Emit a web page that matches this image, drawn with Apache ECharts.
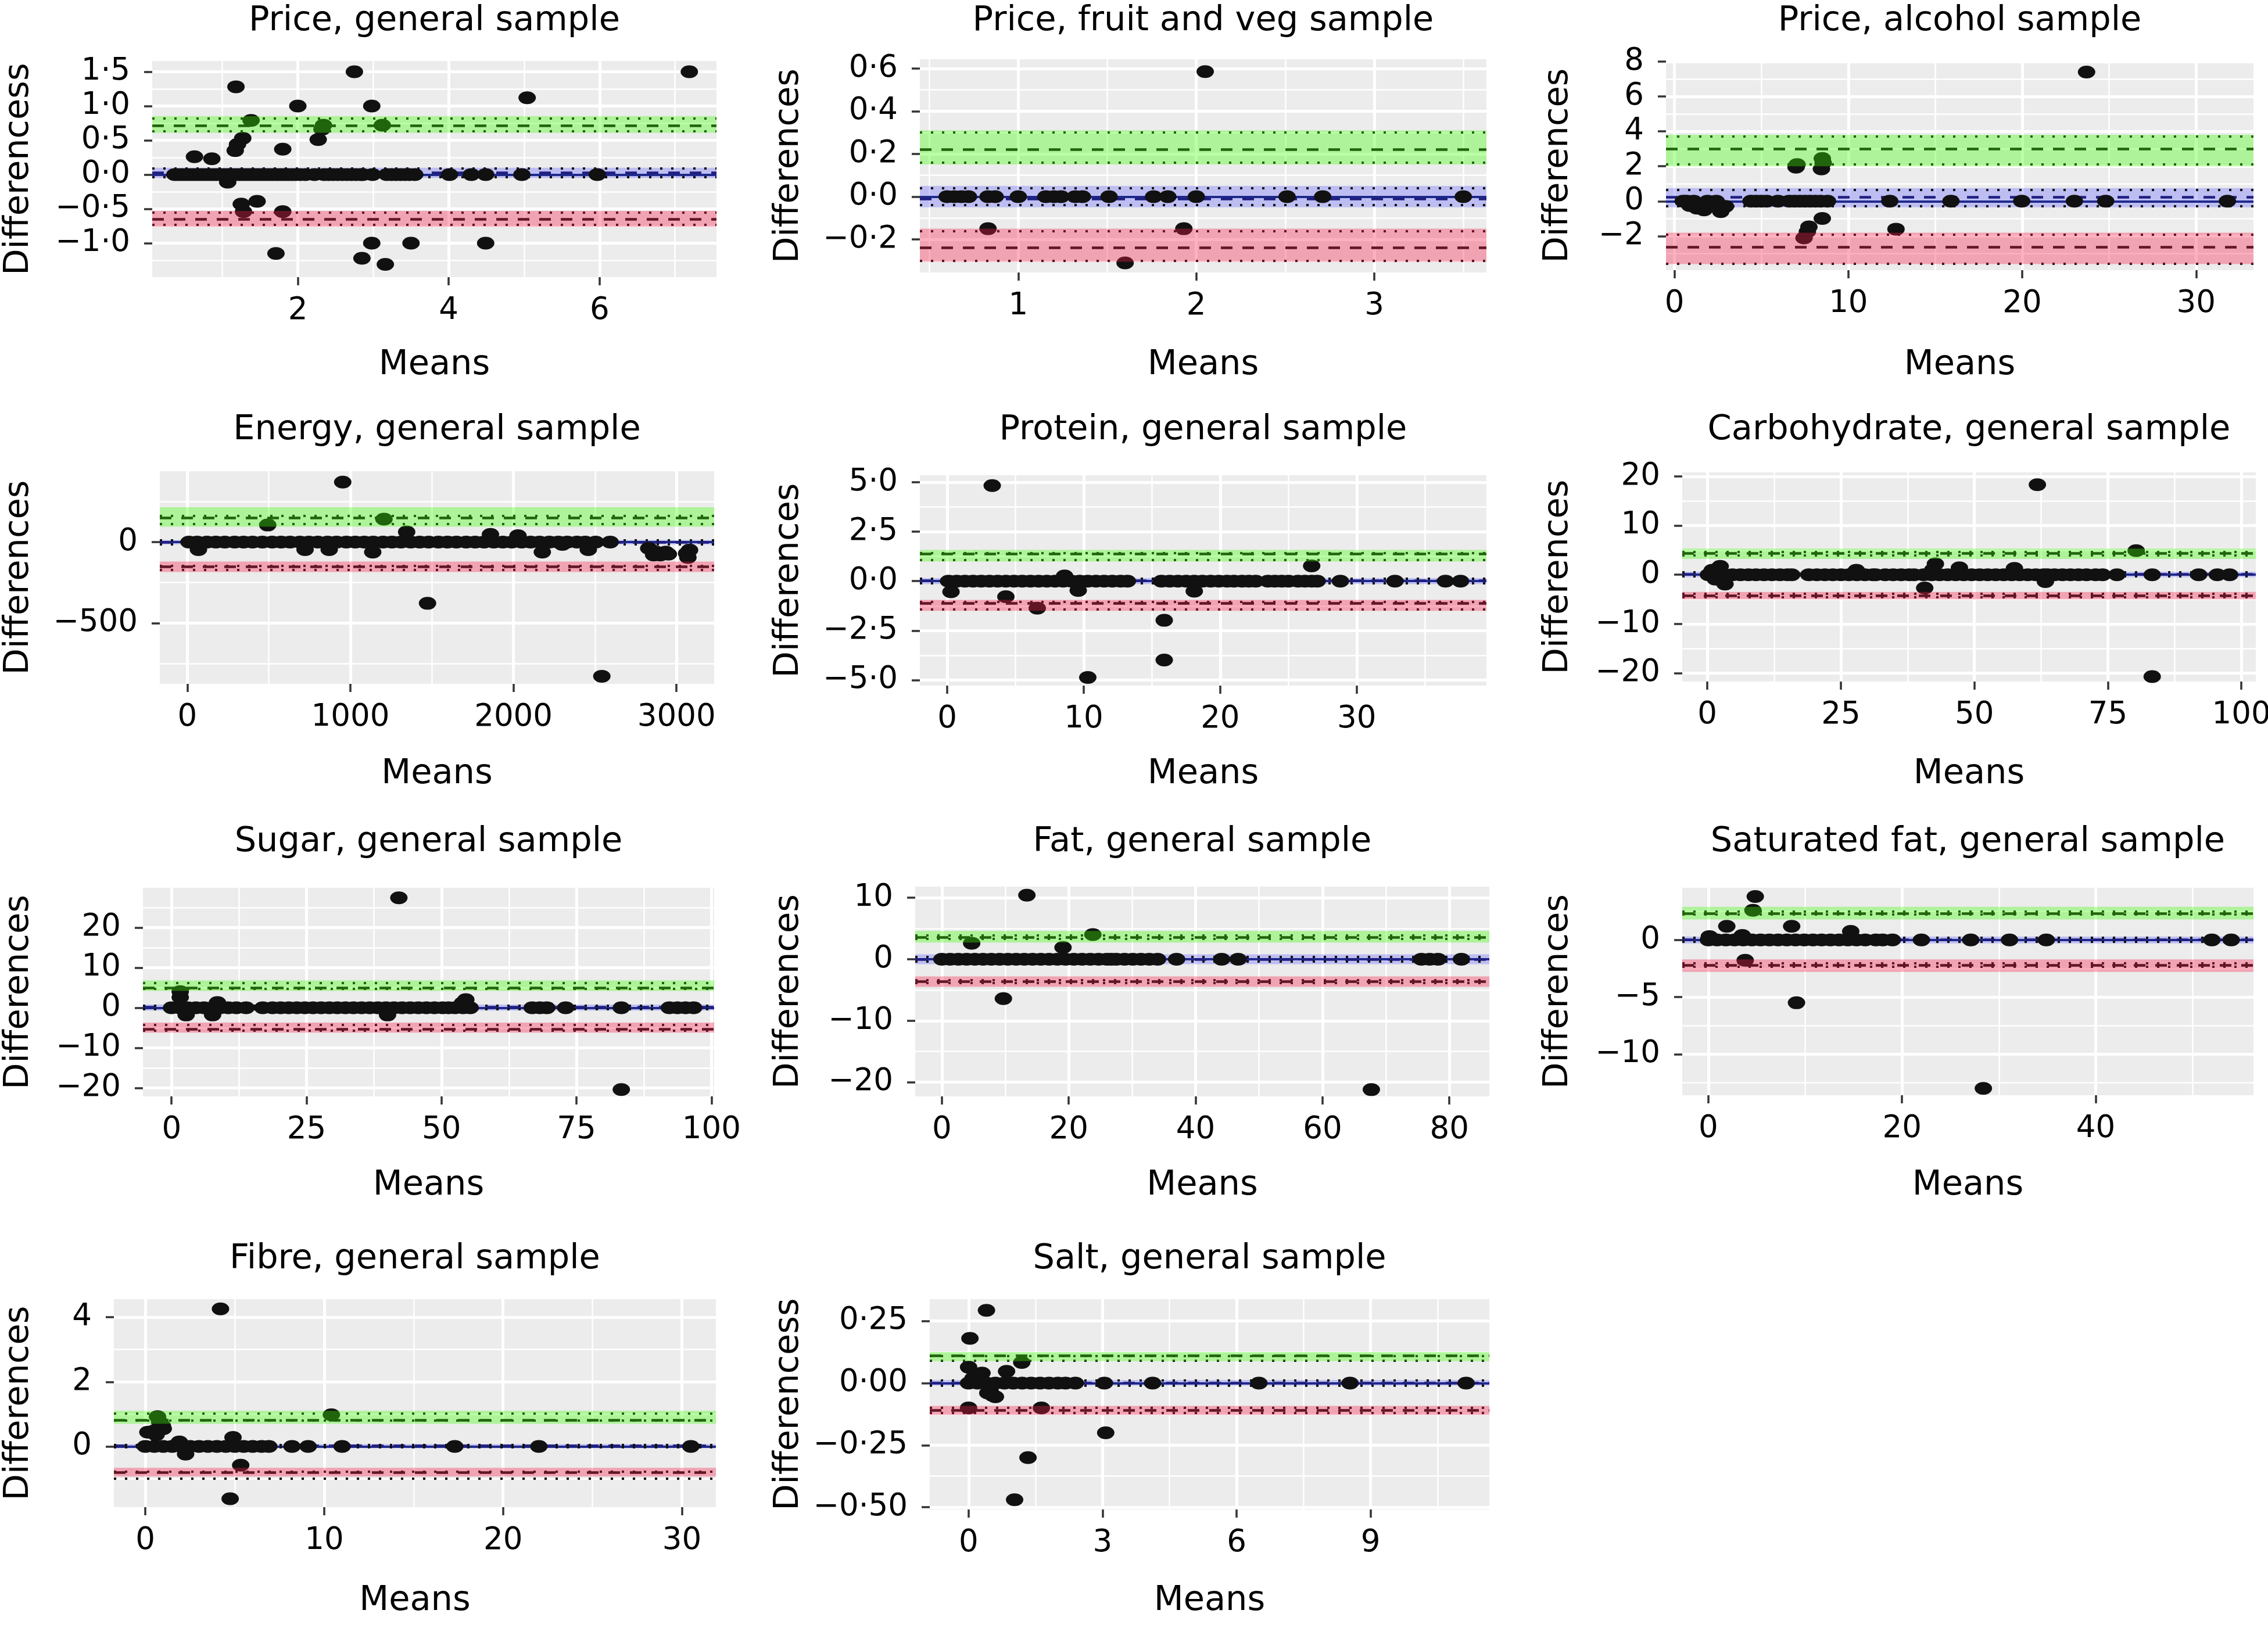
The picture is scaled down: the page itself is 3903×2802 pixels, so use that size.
<!DOCTYPE html>
<html><head><meta charset="utf-8">
<script src="https://cdn.jsdelivr.net/npm/echarts@6/dist/echarts.min.js"></script>
<style>html,body{margin:0;padding:0;background:#fff}#c{width:3903px;height:2802px}</style>
</head><body><div id="c"></div><script>
// ---------------- DATA ----------------
const titles = ["Price, general sample","Price, fruit and veg sample","Price, alcohol sample",
  "Energy, general sample","Protein, general sample","Carbohydrate, general sample",
  "Sugar, general sample","Fat, general sample","Saturated fat, general sample",
  "Fibre, general sample","Salt, general sample"];
const yNames = ["Differencess","Differences","Differences","Differences","Differences","Differences",
  "Differences","Differences","Differences","Differences","Differencess"];
const xName = "Means";

// Each panel: off-zero points (X,Y), points on the zero line (Zero: x values),
// Loa = [lower LoA, mean difference, upper LoA], Dots = CI (dotted) lines,
// Fill = [green lo, green hi, blue lo, blue hi, red lo, red hi]
const p1X = [7.19,2.75,1.18,5.04,2.00,2.98,1.38,3.12,2.34,2.32,2.27,1.27,1.20,1.17,1.80,0.63,0.86,1.07,1.25,1.28,1.46,1.80,2.98,3.50,4.49,1.71,2.85,3.16];
const p1Y = [1.50,1.50,1.28,1.12,1.00,1.00,0.79,0.72,0.72,0.66,0.51,0.53,0.44,0.35,0.37,0.26,0.23,-0.11,-0.43,-0.54,-0.39,-0.54,-1.00,-1.00,-1.00,-1.15,-1.22,-1.31];
const p1Zero = [0.37,0.42,0.47,0.52,0.57,0.62,0.67,0.72,0.77,0.82,0.87,0.92,0.97,1.02,1.07,1.12,1.17,1.22,1.27,1.32,1.37,1.42,1.47,1.52,1.57,1.62,1.67,1.72,1.77,1.82,1.87,1.92,1.97,2.03,2.10,2.22,2.35,2.41,2.47,2.53,2.59,2.65,2.71,2.77,2.83,2.86,2.99,3.18,3.24,3.30,3.36,3.42,3.48,3.55,4.01,4.30,4.49,4.97,5.97];
const p1Loa = [-0.65,0.03,0.71];
const p1Dots = [0.82,0.625,0.09,-0.04,-0.55,-0.73];
const p1Fill = [0.61,0.85,-0.05,0.10,-0.76,-0.53];
const p1XTicks = [2,4,6];
const p1YTicks = [-1,-0.5,0,0.5,1,1.5];

const p2X = [2.05,0.83,1.93,1.60];
const p2Y = [0.585,-0.15,-0.15,-0.31];
const p2Zero = [0.60,0.64,0.68,0.72,0.83,0.87,1.00,1.155,1.20,1.24,1.32,1.36,1.51,1.76,1.84,2.00,2.51,2.71,3.50];
const p2Loa = [-0.237,-0.006,0.224];
const p2Dots = [0.30,0.163,0.044,-0.041,-0.159,-0.296];
const p2Fill = [0.151,0.31,-0.05,0.05,-0.305,-0.15];
const p2XTicks = [1,2,3];
const p2YTicks = [-0.2,0,0.2,0.4,0.6];

const p3X = [23.7,6.99,7.05,8.50,8.55,8.45,8.50,7.73,7.64,7.45,12.74,0.88,1.29,1.70,2.10,2.66,2.93,1.00,1.50];
const p3Y = [7.40,1.95,2.10,2.45,2.20,1.85,-0.99,-1.47,-1.75,-2.10,-1.60,-0.25,-0.40,-0.50,-0.10,-0.60,-0.30,-0.10,-0.20];
const p3Zero = [0.5,0.7,1.1,1.9,2.4,4.4,4.7,5.0,5.3,5.95,6.6,6.9,7.2,7.5,7.8,8.1,8.4,8.8,12.38,15.9,19.97,23.0,24.8,31.8];
const p3Loa = [-2.62,0.22,3.0];
const p3Dots = [3.72,2.11,0.65,-0.27,-1.9,-3.56];
const p3Fill = [2.0,3.8,-0.35,0.75,-3.6,-1.8];
const p3XTicks = [0,10,20,30];
const p3YTicks = [-2,0,2,4,6,8];

const p4X = [953,493,1206,1473,2542,1345,1859,2028,3062,2875,2934,2830,68,722,870,1137,2177,2459,3080,2300,2860,2900,2950,3070];
const p4Y = [370,105,141,-378,-828,62,47,39,-70,-62,-62,-39,-47,-47,-47,-62,-62,-47,-50,-15,-80,-80,-75,-95];
const p4Zero = [10,60,120,175,230,290,345,400,460,520,575,630,690,745,800,860,915,975,1030,1085,1140,1200,1255,1310,1370,1425,1480,1540,1595,1650,1710,1765,1820,1880,1935,1990,2050,2105,2160,2220,2275,2330,2390,2440,2504,2593];
const p4Loa = [-152,-2,148];
const p4Dots = [162,112,10,-14,-145,-170];
const p4Fill = [95,215,-15,12,-185,-120];
const p4XTicks = [0,1000,2000,3000];
const p4YTicks = [-500,0];

const p5X = [3.3,4.3,6.6,8.6,9.6,10.3,15.9,15.9,18.1,26.7,0.28];
const p5Y = [4.83,-0.79,-1.37,0.26,-0.47,-4.87,-1.98,-3.99,-0.51,0.77,-0.54];
const p5Zero = [0.1,0.7,1.3,1.9,2.5,3.1,3.7,4.3,4.9,5.5,6.1,6.7,7.3,7.9,8.5,9.1,9.7,10.3,10.9,11.5,12.1,12.7,13.2,15.7,16.3,16.9,17.5,18.1,18.7,19.3,19.9,20.5,21.0,21.6,22.1,22.6,23.5,24.0,24.5,25.0,25.7,26.2,26.7,27.1,28.8,32.8,36.5,37.6];
const p5Loa = [-1.11,0.02,1.38];
const p5Dots = [1.43,1.06,0.12,-0.10,-1.05,-1.43];
const p5Fill = [1.0,1.58,-0.15,0.15,-1.5,-0.95];
const p5XTicks = [0,10,20,30];
const p5YTicks = [-5,-2.5,0,2.5,5];

const p6X = [61.8,80.3,83.3,42.7,40.7,0.9,2.4,3.3,27.9,47.2,57.5,63.3,42.2,1.5];
const p6Y = [18.3,4.9,-20.7,2.2,-2.7,0.9,1.7,-1.9,0.9,1.4,1.3,-1.4,1.0,-0.9];
const p6Zero = [0.2,1.7,3.2,4.7,6.2,7.7,9.1,10.6,12.1,13.6,15.0,15.8,19.0,20.5,22.0,23.5,25.0,26.5,28.0,29.5,31.0,31.5,33.3,34.8,36.3,37.8,38.7,40.5,42.0,43.5,45.0,46.5,48.0,49.5,51.0,52.5,54.0,55.5,57.0,58.5,60.0,61.5,63.0,63.7,65.0,66.5,68.0,69.5,71.0,72.7,74.0,76.7,83.3,92.0,95.5,97.8];
const p6Loa = [-4.2,0.1,4.4];
const p6Dots = [4.7,4.0,0.5,-0.3,-3.9,-4.6];
const p6Fill = [3.2,5.3,-0.5,0.6,-5.0,-3.5];
const p6XTicks = [0,25,50,75,100];
const p6YTicks = [-20,-10,0,10,20];

const p7X = [42.1,83.3,1.6,1.6,8.5,53.9,2.7,7.6,40.0,54.5];
const p7Y = [27.4,-20.4,2.6,4.0,1.3,1.2,-1.8,-1.8,-1.8,2.0];
const p7Zero = [0,1.5,3.0,4.5,6.0,7.5,9.0,10.5,12.0,13.8,16.9,18.7,20.2,21.7,23.2,24.7,26.2,27.7,29.2,30.7,32.2,33.7,35.2,36.7,38.2,39.7,41.2,42.7,44.2,45.7,47.2,48.7,50.2,51.3,52.5,54.0,55.3,66.8,68.2,69.5,73.0,83.3,92.2,93.7,95.2,96.7];
const p7Loa = [-5.4,0.1,4.9];
const p7Dots = [6.2,4.75,0.5,-0.4,-4.2,-5.65];
const p7Fill = [4.2,6.8,-0.7,0.8,-6.2,-3.7];
const p7XTicks = [0,25,50,75,100];
const p7YTicks = [-20,-10,0,10,20];

const p8X = [13.4,67.7,9.7,4.7,23.8,19.1];
const p8Y = [10.4,-21.2,-6.4,2.6,4.0,1.9];
const p8Zero = [0,1.3,2.6,3.9,5.2,6.5,7.8,9.1,10.4,11.7,13.0,14.3,15.6,16.9,18.2,19.5,20.8,22.1,23.4,24.7,26.0,26.7,27.5,28.8,30.1,31.4,32.7,34.0,37.0,44.1,46.7,75.6,76.9,78.2,81.9];
const p8Loa = [-3.6,0,3.6];
const p8Dots = [3.9,3.35,0.4,-0.4,-3.35,-3.9];
const p8Fill = [2.7,4.6,-0.8,0.8,-4.5,-2.8];
const p8XTicks = [0,20,40,60,80];
const p8YTicks = [-20,-10,0,10];

const p9X = [4.84,4.6,1.9,8.6,14.7,3.8,9.1,28.4,0.1,3.5];
const p9Y = [3.81,2.6,1.2,1.2,0.75,-1.78,-5.5,-13.0,0.3,0.4];
const p9Zero = [0,0.9,1.8,2.7,3.6,4.5,5.4,6.3,7.2,8.1,9.0,9.9,10.8,11.7,12.6,13.5,14.4,15.3,16.2,17.3,18.0,19.0,22.0,27.1,31.1,34.9,52.0,54.0];
const p9Loa = [-2.2,0.05,2.33];
const p9Dots = [2.5,2.25,0.2,-0.15,-2.05,-2.35];
const p9Fill = [1.8,2.9,-0.3,0.3,-2.8,-1.7];
const p9XTicks = [0,20,40];
const p9YTicks = [-10,-5,0];

const p10X = [4.2,4.74,10.4,5.33,4.9,2.25,1.9,0.68,0.95,0.5,0.14,0.6,0.8,1.0];
const p10Y = [4.26,-1.62,0.98,-0.58,0.28,-0.24,0.14,0.92,0.64,0.48,0.44,0.36,0.75,0.55];
const p10Zero = [0,0.5,1.0,1.5,2.0,2.5,3.0,3.5,4.0,4.5,5.0,5.5,6.0,6.5,6.9,8.2,9.1,11.0,17.3,22.0,30.5];
const p10Loa = [-0.8,0.02,0.82];
const p10Dots = [1.02,0.8,0.05,-0.03,-0.78,-1.0];
const p10Fill = [0.7,1.1,-0.06,0.07,-0.93,-0.66];
const p10XTicks = [0,10,20,30];
const p10YTicks = [0,2,4];

const p11X = [0.4,0.03,1.19,0.0,0.85,0.3,0.0,1.63,3.07,1.33,1.03,0.54,0.43,0.6,0.48,0.1,0.2];
const p11Y = [0.293,0.18,0.083,0.064,0.047,0.04,-0.1,-0.1,-0.2,-0.3,-0.47,-0.05,-0.04,-0.055,-0.03,0.02,0.03];
const p11Zero = [0,0.2,0.4,0.6,0.8,1.0,1.2,1.4,1.6,1.8,2.0,2.17,2.39,3.04,4.12,6.5,8.54,11.14];
const p11Loa = [-0.114,-0.002,0.109];
const p11Dots = [0.113,0.094,0.008,-0.01,-0.099,-0.118];
const p11Fill = [0.088,0.125,-0.01,0.012,-0.128,-0.092];
const p11XTicks = [0,3,6,9];
const p11YTicks = [-0.5,-0.25,0,0.25];

// ---------------- LAYOUT ----------------
const panels = [
  {px:p1X,py:p1Y,zero:p1Zero,loa:p1Loa,dots:p1Dots,fill:p1Fill,xt:p1XTicks,yt:p1YTicks},
  {px:p2X,py:p2Y,zero:p2Zero,loa:p2Loa,dots:p2Dots,fill:p2Fill,xt:p2XTicks,yt:p2YTicks},
  {px:p3X,py:p3Y,zero:p3Zero,loa:p3Loa,dots:p3Dots,fill:p3Fill,xt:p3XTicks,yt:p3YTicks},
  {px:p4X,py:p4Y,zero:p4Zero,loa:p4Loa,dots:p4Dots,fill:p4Fill,xt:p4XTicks,yt:p4YTicks},
  {px:p5X,py:p5Y,zero:p5Zero,loa:p5Loa,dots:p5Dots,fill:p5Fill,xt:p5XTicks,yt:p5YTicks},
  {px:p6X,py:p6Y,zero:p6Zero,loa:p6Loa,dots:p6Dots,fill:p6Fill,xt:p6XTicks,yt:p6YTicks},
  {px:p7X,py:p7Y,zero:p7Zero,loa:p7Loa,dots:p7Dots,fill:p7Fill,xt:p7XTicks,yt:p7YTicks},
  {px:p8X,py:p8Y,zero:p8Zero,loa:p8Loa,dots:p8Dots,fill:p8Fill,xt:p8XTicks,yt:p8YTicks},
  {px:p9X,py:p9Y,zero:p9Zero,loa:p9Loa,dots:p9Dots,fill:p9Fill,xt:p9XTicks,yt:p9YTicks},
  {px:p10X,py:p10Y,zero:p10Zero,loa:p10Loa,dots:p10Dots,fill:p10Fill,xt:p10XTicks,yt:p10YTicks},
  {px:p11X,py:p11Y,zero:p11Zero,loa:p11Loa,dots:p11Dots,fill:p11Fill,xt:p11XTicks,yt:p11YTicks}
];
const layout = [
  {l:262, t:105, w:971, h:372, x0:0.07, x1:7.55, y0:-1.496, y1:1.656, dec:1, gy:200, gx:122, ty:37},
  {l:1583,t:102, w:975, h:367, x0:0.447,x1:3.63, y0:-0.355, y1:0.643, dec:1, gy:196, gx:130, ty:37},
  {l:2867,t:105, w:1011,h:360, x0:-0.49,x1:33.3, y0:-3.95,  y1:8.03,  dec:0, gy:156, gx:134, ty:37},
  {l:275, t:811, w:954, h:366, x0:-169, x1:3231, y0:-875,   y1:437,   dec:0, gy:213, gx:126, ty:741},
  {l:1583,t:818, w:975, h:362, x0:-2.0, x1:39.5, y0:-5.28,  y1:5.35,  dec:1, gy:196, gx:123, ty:741},
  {l:2895,t:813, w:987, h:360, x0:-4.7, x1:102.7,y0:-21.7,  y1:20.8,  dec:0, gy:184, gx:130, ty:741},
  {l:246, t:1528,w:983, h:359, x0:-5.3, x1:100.5,y0:-22.1,  y1:29.9,  dec:0, gy:184, gx:124, ty:1450},
  {l:1575,t:1526,w:988, h:361, x0:-4.2, x1:86.3, y0:-22.3,  y1:11.8,  dec:0, gy:188, gx:124, ty:1450},
  {l:2895,t:1528,w:983, h:357, x0:-2.7, x1:56.3, y0:-13.6,  y1:4.57,  dec:0, gy:184, gx:126, ty:1450},
  {l:196, t:2236,w:1036,h:358, x0:-1.76,x1:31.9, y0:-1.88,  y1:4.56,  dec:0, gy:134, gx:132, ty:2168},
  {l:1600,t:2236,w:963, h:362, x0:-0.87,x1:11.66,y0:-0.509, y1:0.338, dec:2, gy:213, gx:128, ty:2168}
];

const FONT = '"DejaVu Sans", sans-serif';
const BG = '#EBECEB';
const GREEN = 'rgba(60,255,4,0.35)', BLUE = 'rgba(104,104,255,0.35)', RED = 'rgba(249,29,75,0.35)';

function fmt(v, dec){
  const s = Math.abs(v).toFixed(dec).replace('.', '\u00B7');
  return (v < -1e-12 ? '\u2212' : '') + s;
}
function minorsOf(t, lo, hi){
  const st = t[1] - t[0]; const out = [];
  for (let v = t[0] - 1.5*st; v <= hi + 1e-9; v += st){
    if (v >= lo && v <= hi) out.push(+v.toFixed(6));
  }
  return out;
}

const grid = [], xAxis = [], yAxis = [], series = [], title = [];
panels.forEach((P, i) => {
  const L = layout[i];
  grid.push({left:L.l, top:L.t, width:L.w, height:L.h, show:true, backgroundColor:BG, borderWidth:0, containLabel:false, outerBoundsMode:'none'});
  title.push({text:titles[i], left:L.l + L.w/2, top:L.ty, textAlign:'center', textVerticalAlign:'middle', padding:0,
    textStyle:{fontSize:59, fontWeight:'normal', color:'#000', fontFamily:FONT}});
  const xMin = minorsOf(P.xt, L.x0, L.x1), yMin = minorsOf(P.yt, L.y0, L.y1);
  xAxis.push({gridIndex:i, type:'value', min:L.x0, max:L.x1, position:'bottom',
    name:xName, nameLocation:'middle', nameGap:L.gx, nameMoveOverlap:false,
    nameTextStyle:{fontSize:59, color:'#000', fontFamily:FONT},
    axisLine:{show:false, onZero:false},
    axisTick:{show:true, length:14, lineStyle:{color:'#333', width:3.5}, customValues:P.xt},
    axisLabel:{show:true, customValues:P.xt, formatter:v=>fmt(v,0), fontSize:53, color:'#000', margin:32, fontFamily:FONT},
    splitLine:{show:true, lineStyle:{color:'#fff', width:5}}});
  xAxis.push({gridIndex:i, type:'value', min:L.x0, max:L.x1, position:'top',
    axisLine:{show:false, onZero:false}, axisTick:{show:false, customValues:xMin},
    axisLabel:{show:false, customValues:xMin}, splitLine:{show:true, lineStyle:{color:'#fff', width:2.5}}});
  yAxis.push({gridIndex:i, type:'value', min:L.y0, max:L.y1, position:'left',
    name:yNames[i], nameLocation:'middle', nameGap:L.gy, nameMoveOverlap:false,
    nameTextStyle:{fontSize:59, color:'#000', fontFamily:FONT},
    axisLine:{show:false, onZero:false},
    axisTick:{show:true, length:14, lineStyle:{color:'#333', width:3.5}, customValues:P.yt},
    axisLabel:{show:true, customValues:P.yt, formatter:v=>fmt(v,L.dec), fontSize:53, color:'#000', margin:38, fontFamily:FONT},
    splitLine:{show:true, lineStyle:{color:'#fff', width:5}}});
  yAxis.push({gridIndex:i, type:'value', min:L.y0, max:L.y1, position:'right',
    axisLine:{show:false, onZero:false}, axisTick:{show:false, customValues:yMin},
    axisLabel:{show:false, customValues:yMin}, splitLine:{show:true, lineStyle:{color:'#fff', width:2.5}}});

  const f = P.fill;
  // blue band (mean CI) sits under the points
  series.push({type:'line', xAxisIndex:2*i, yAxisIndex:2*i, data:[], z:1, silent:true,
    markArea:{silent:true, z:1, animation:false, data:[
      [{xAxis:L.x0, yAxis:f[2], itemStyle:{color:BLUE}}, {xAxis:L.x1, yAxis:f[3]}]
    ]}});

  const lines = [
    {yAxis:0, lineStyle:{color:'#1f2a8a', width:4, type:'solid'}},
    {yAxis:P.loa[1], lineStyle:{color:'#1f1f80', width:4.5, type:[20,17]}},
    {yAxis:P.loa[2], lineStyle:{color:'#111', width:4.5, type:[20,17]}},
    {yAxis:P.loa[0], lineStyle:{color:'#111', width:4.5, type:[20,17]}}
  ].concat(P.dots.map(d => ({yAxis:d, lineStyle:{color:'#111', width:4, type:[4,15]}})));
  series.push({type:'line', xAxisIndex:2*i, yAxisIndex:2*i, data:[], z:2, silent:true,
    markLine:{silent:true, z:2, symbol:['none','none'], label:{show:false}, animation:false, data:lines}});

  const pts = P.px.map((x, k) => [x, P.py[k]]).concat(P.zero.map(x => [x, 0]));
  series.push({type:'scatter', xAxisIndex:2*i, yAxisIndex:2*i, data:pts, symbol:'circle', symbolSize:[30,22],
    itemStyle:{color:'#111', opacity:1}, z:3, silent:true});

  // green / red LoA CI bands drawn over points (as in the reference)
  series.push({type:'line', xAxisIndex:2*i, yAxisIndex:2*i, data:[], z:5, silent:true,
    markArea:{silent:true, z:6, animation:false, data:[
      [{xAxis:L.x0, yAxis:f[0], itemStyle:{color:GREEN}}, {xAxis:L.x1, yAxis:f[1]}],
      [{xAxis:L.x0, yAxis:f[4], itemStyle:{color:RED}}, {xAxis:L.x1, yAxis:f[5]}]
    ]}});
});

const chart = echarts.init(document.getElementById('c'), null, {renderer:'canvas', width:3903, height:2802});
chart.setOption({backgroundColor:'#fff', animation:false, title, grid, xAxis, yAxis, series});
</script></body></html>
